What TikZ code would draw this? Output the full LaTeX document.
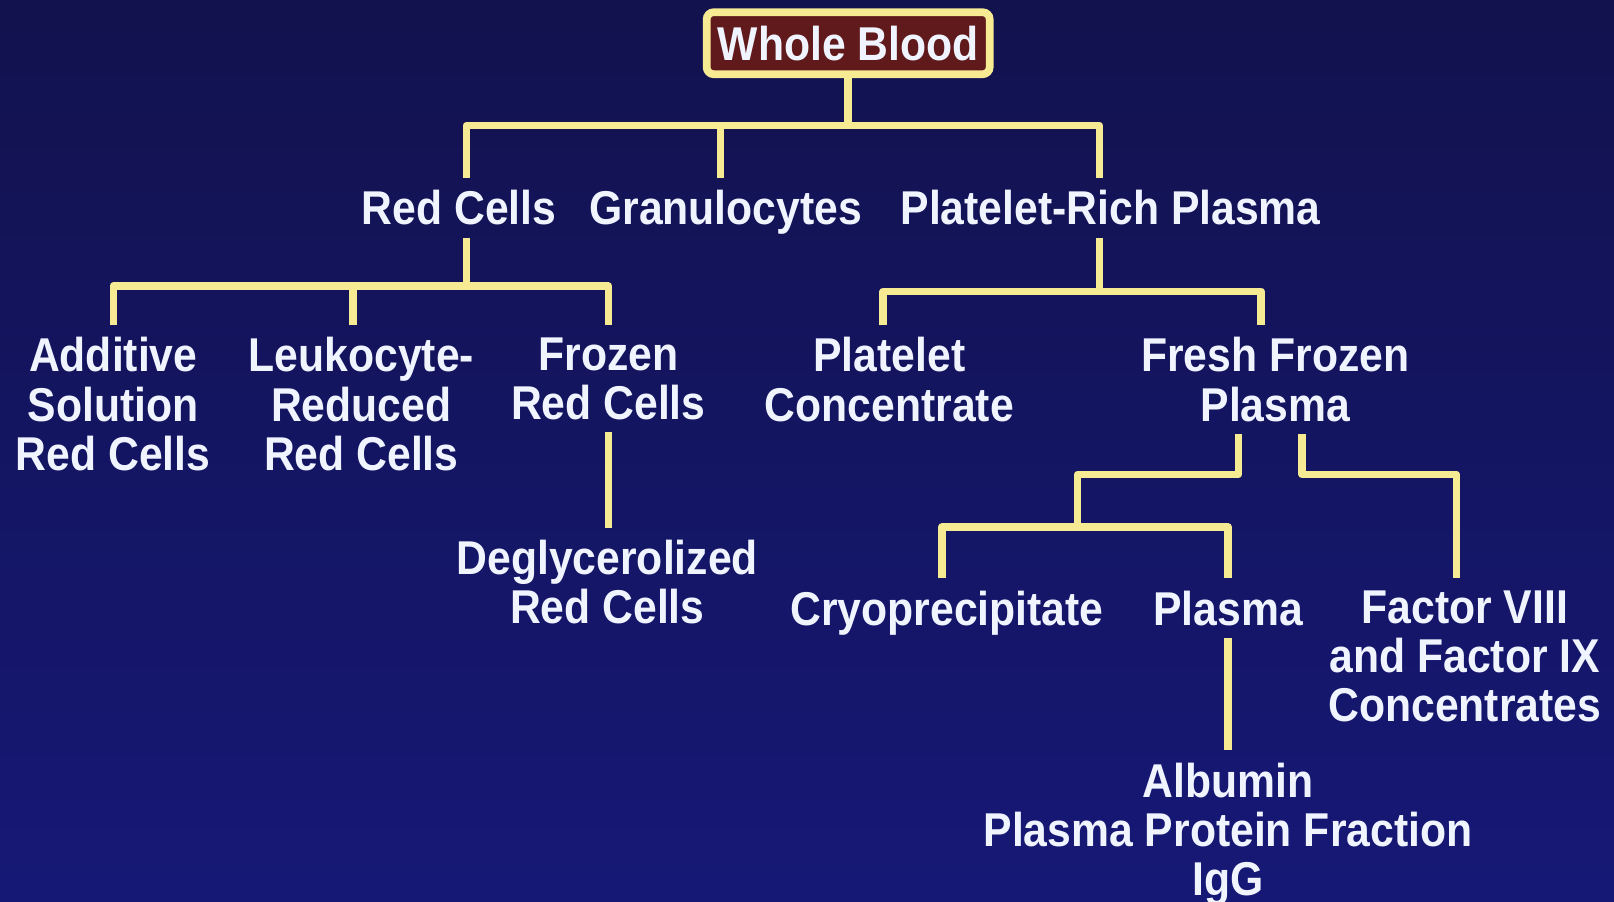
\documentclass[tikz,border=0pt]{standalone}
\usepackage{fontspec}
\newfontfamily\slidefont[FakeStretch=0.9]{Liberation Sans}
\usepackage{tikz}
\usetikzlibrary{positioning,calc}
\definecolor{slidebg}{RGB}{30,30,148}
\definecolor{slidetop}{RGB}{18,18,78}
\definecolor{slidebot}{RGB}{22,24,118}
\definecolor{linkyel}{RGB}{246,234,146}
\definecolor{boxred}{RGB}{96,26,28}
\definecolor{slidetxt}{RGB}{240,244,255}

\begin{document}
\begin{tikzpicture}[x=0.10293mm, y=-0.10293mm,
    item/.style={font=\slidefont\bfseries\fontsize{13.5}{14}\selectfont, text=slidetxt,
      align=center, inner sep=0pt, outer sep=3.5pt, anchor=north},
    wbbox/.style={item, anchor=center, draw=linkyel, line width=2.2pt, fill=boxred,
      rounded corners=2pt, minimum width=2.83cm, minimum height=0.62cm, outer sep=0pt},
    link/.style={draw=linkyel, line width=2.1pt, line join=round}]
   \shade[top color=slidetop, middle color=slidebg, bottom color=slidebot] (0,0) rectangle (1568,876);
   \useasboundingbox (0,0) rectangle (1568,876);
   % products
   \node[wbbox] (wb) at (824,42) {Whole Blood};
   \node[item] (rc)   at (446,173) {Red Cells};
   \node[item] (gran) at (705,173) {Granulocytes};
   \node[item] (prp)  at (1079,173) {Platelet-Rich Plasma};
   \node[item] (asrc) at (110,316) {Additive\\Solution\\Red Cells};
   \node[item] (lrrc) at (351,316) {Leukocyte-\\Reduced\\Red Cells};
   \node[item] (frc)  at (591,316) {Frozen\\Red Cells};
   \node[item] (dgrc) at (590,513) {Deglycerolized\\Red Cells};
   \node[item] (pc)   at (864,316) {Platelet\\Concentrate};
   \node[item] (ffp)  at (1239,316) {Fresh Frozen\\Plasma};
   \node[item] (cryo) at (920,562) {Cryoprecipitate};
   \node[item] (pl)   at (1193,562) {Plasma};
   \node[item] (fac)  at (1423,562) {Factor VIII\\and Factor IX\\Concentrates};
   \node[item] (alb)  at (1193,729) {Albumin\\Plasma Protein Fraction\\IgG};
   % bus points
   \coordinate (b1l) at (453,122);
   \coordinate (b1r) at (1068,122);
   \coordinate (b2) at (0,278);
   \coordinate (b3l) at (858,283);
   \coordinate (b3r) at (1225,283);
   \coordinate (f1) at (1203,461);
   \coordinate (f2) at (1047,512);
   \coordinate (b4l) at (915,512);
   \coordinate (b4r) at (1193,512);
   \coordinate (g1) at (1265,461);
   \coordinate (g2) at (1415,461);
   % connectors
   \draw[link] (wb.south) -- (wb.south |- b1l);
   \draw[link] (rc.north -| b1l) -- (b1l) -- (b1r) -- (b1r |- prp.north);
   \draw[link] (gran.north -| 700,0) -- (700,122);
   \draw[link] (rc.south -| b1l) -- (b1l |- b2);
   \draw[link] (asrc.north) |- (frc.north |- b2) -- (frc.north);
   \draw[link] (lrrc.north -| 343,0) -- (343,278);
   \draw[link] (frc.south) -- (dgrc.north -| frc.south);
   \draw[link] (prp.south -| b1r) -- (b1r |- b3l);
   \draw[link] (pc.north -| b3l) -- (b3l) -- (b3r) -- (b3r |- ffp.north);
   \draw[link] (ffp.south -| f1) -- (f1) -| (f2);
   \draw[link] (cryo.north -| b4l) -- (b4l) -- (b4r) -- (b4r |- pl.north);
   \draw[link] (ffp.south -| g1) -- (g1) -- (g2) -- (g2 |- fac.north);
   \draw[link] (pl.south) -- (alb.north);
\end{tikzpicture}
\end{document}
